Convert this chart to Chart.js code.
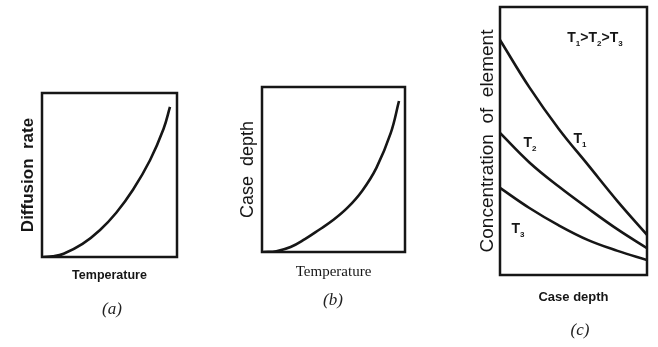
<!DOCTYPE html>
<html>
<head>
<meta charset="utf-8">
<script src="https://cdn.jsdelivr.net/npm/chart.js@4/dist/chart.umd.min.js"></script>
<style>
  html, body { margin: 0; padding: 0; background: #fff; }
  #wrap { position: relative; width: 658px; height: 347px; overflow: hidden; }
  #wrap canvas { position: absolute; left: 0; top: 0; }
  .tag { position: absolute; font: italic 17px "Liberation Serif", serif; color: #222; transform: translate(-50%, -50%); }
</style>
</head>
<body>
<div id="wrap">
  <canvas id="chartA" width="658" height="347"></canvas>
  <canvas id="chartB" width="658" height="347"></canvas>
  <canvas id="chartC" width="658" height="347"></canvas>
  <div class="tag" style="left:112px;top:309px">(a)</div>
  <div class="tag" style="left:333px;top:300px">(b)</div>
  <div class="tag" style="left:580px;top:330px">(c)</div>
</div>
<script>
// (a) diffusion rate vs temperature
const tempA = [0.1, 0.8, 1.6, 3, 4.3, 5.5, 6.74, 8.0, 9.0, 9.48];
const rateA = [0, 0.04, 0.2, 0.8, 1.65, 2.7, 4.1, 5.9, 7.8, 9.15];

// (b) case depth vs temperature
const tempB = [0.1, 1, 2, 3, 4, 5, 6, 7, 8, 9, 9.58];
const depthB = [0, 0.05, 0.3, 0.78, 1.35, 1.95, 2.7, 3.7, 5.1, 7.2, 9.15];

// (c) concentration vs case depth for three temperatures
const depthC = [0, 2, 4, 6, 8, 10];
const concT1 = [8.77, 7.0, 5.45, 4.1, 2.75, 1.5];
const concT2 = [5.30, 4.20, 3.30, 2.48, 1.70, 1.0];
const concT3 = [3.25, 2.50, 1.85, 1.30, 0.90, 0.56];

// curve labels for (c): [main, subscript], anchor in data units
const labelsC = [
  { parts: [['T', '1'], ['>T', '2'], ['>T', '3']], x: 6.46, y: 8.88 },
  { parts: [['T', '1']], x: 5.44, y: 5.11 },
  { parts: [['T', '2']], x: 2.04, y: 4.96 },
  { parts: [['T', '3']], x: 1.22, y: 1.75 }
];

const INK = '#161616';
const SANS = '"Liberation Sans", Arial, sans-serif';
const SERIF = '"Liberation Serif", serif';

Chart.defaults.animation = false;
Chart.defaults.responsive = false;
Chart.defaults.color = INK;

const framePlugin = {
  id: 'frame',
  afterDraw(chart) {
    const a = chart.chartArea;
    const ctx = chart.ctx;
    ctx.save();
    ctx.strokeStyle = INK;
    ctx.lineWidth = 2.5;
    ctx.strokeRect(a.left, a.top, a.right - a.left, a.bottom - a.top);
    ctx.restore();
  }
};

function toPts(xs, ys) {
  return xs.map((x, i) => ({ x: x, y: ys[i] }));
}

function axis(pos, title, font, pad) {
  return {
    type: 'linear',
    position: pos,
    min: 0,
    max: 10,
    ticks: { display: false },
    grid: { display: false, drawTicks: false },
    border: { display: false },
    title: { display: true, text: title, color: INK, font: font, padding: pad }
  };
}

function curve(data) {
  return {
    data: data,
    borderColor: INK,
    borderWidth: 2.6,
    pointRadius: 0,
    fill: false,
    tension: 0.4
  };
}

// box in page px: left, top, right, bottom
function makeChart(id, box, datasets, xAxis, yAxis, plugins) {
  const yLh = yAxis.title.font.size * 1.2;
  const xLh = xAxis.title.font.size * 1.2;
  const yw = yLh + yAxis.title.padding.top + yAxis.title.padding.bottom;
  const xh = xLh + xAxis.title.padding.top + xAxis.title.padding.bottom;
  return new Chart(document.getElementById(id), {
    type: 'line',
    data: { datasets: datasets },
    options: {
      layout: {
        padding: { left: box[0] - yw, top: box[1], right: 658 - box[2], bottom: 347 - box[3] - xh }
      },
      plugins: { legend: { display: false }, tooltip: { enabled: false } },
      scales: { x: xAxis, y: yAxis }
    },
    plugins: [framePlugin].concat(plugins || [])
  });
}

// (a)
makeChart('chartA', [42, 93, 177, 257],
  [curve(toPts(tempA, rateA))],
  axis('bottom', 'Temperature', { family: SANS, size: 12.5, weight: 'bold' }, { top: 11, bottom: 0 }),
  axis('left', 'Diffusion  rate', { family: SANS, size: 17, weight: 'bold' }, { top: 0, bottom: 3 })
);

// (b)
makeChart('chartB', [262, 87, 405, 252],
  [curve(toPts(tempB, depthB))],
  axis('bottom', 'Temperature', { family: SERIF, size: 15 }, { top: 11, bottom: 0 }),
  axis('left', 'Case  depth', { family: SANS, size: 18 }, { top: 0, bottom: 3 })
);

// (c)
const labelPlugin = {
  id: 'curveLabels',
  afterDatasetsDraw(chart) {
    const ctx = chart.ctx;
    const sx = chart.scales.x, sy = chart.scales.y;
    ctx.save();
    ctx.fillStyle = INK;
    ctx.textBaseline = 'alphabetic';
    labelsC.forEach(l => {
      const big = 'bold 14px ' + SANS;
      const small = 'bold 8px ' + SANS;
      let w = 0;
      l.parts.forEach(p => {
        ctx.font = big; w += ctx.measureText(p[0]).width;
        ctx.font = small; w += ctx.measureText(p[1]).width;
      });
      let px = sx.getPixelForValue(l.x) - w / 2;
      const py = sy.getPixelForValue(l.y) + 5;
      l.parts.forEach(p => {
        ctx.font = big; ctx.fillText(p[0], px, py); px += ctx.measureText(p[0]).width;
        ctx.font = small; ctx.fillText(p[1], px, py + 4); px += ctx.measureText(p[1]).width;
      });
    });
    ctx.restore();
  }
};

makeChart('chartC', [500, 7, 647, 275],
  [curve(toPts(depthC, concT1)), curve(toPts(depthC, concT2)), curve(toPts(depthC, concT3))],
  axis('bottom', 'Case depth', { family: SANS, size: 13, weight: 'bold' }, { top: 15, bottom: 0 }),
  axis('left', 'Concentration  of  element', { family: SANS, size: 19 }, { top: 0, bottom: 1 }),
  [labelPlugin]
);
</script>
</body>
</html>
